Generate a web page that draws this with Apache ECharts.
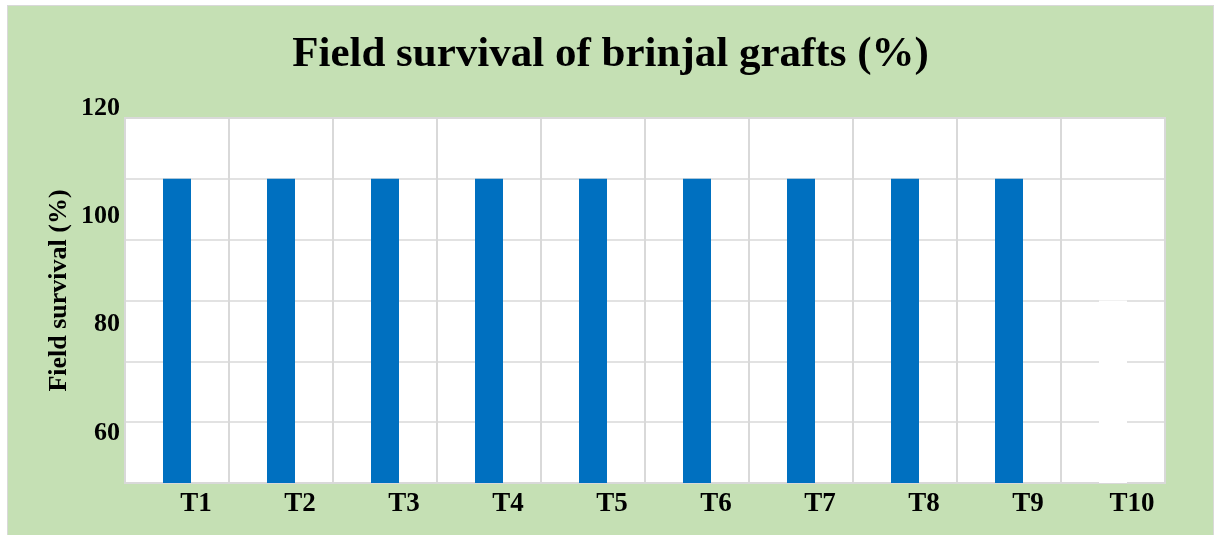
<!DOCTYPE html>
<html>
<head>
<meta charset="utf-8">
<script src="https://cdn.jsdelivr.net/npm/echarts@6/dist/echarts.min.js"></script>
<style>
  html, body { margin: 0; padding: 0; background: #fff; }
  #main {
    position: absolute; left: 7px; top: 5px;
    width: 1205px; height: 529px;
    background: #C5E0B4;
    border: 1px solid #D9D9D9; border-bottom: none;
  }
</style>
</head>
<body>
<div id="main"></div>
<script>
// treatments
var treatments = ['T1', 'T2', 'T3', 'T4', 'T5', 'T6', 'T7', 'T8', 'T9', 'T10'];
// field survival (%)
var survival = [100, 100, 100, 100, 100, 100, 100, 100, 100, 80];
// y tick labels as printed on the chart
var yTicks = [60, 80, 100, 120];

var myChart = echarts.init(document.getElementById('main'));
var serif = '"Liberation Serif", "Times New Roman", serif';

var option = {
  animation: false,
  title: {
    text: 'Field survival of brinjal grafts (%)',
    left: 'center',
    top: 22,
    textStyle: { fontFamily: serif, fontWeight: 'bold', fontSize: 43, color: '#000' }
  },
  grid: [
    {
      left: 117, right: 48, top: 112, bottom: 52,
      show: true, backgroundColor: '#fff', borderColor: '#D9D9D9', borderWidth: 2
    },
    // label-only grid for the printed y ticks
    { left: 117, right: 48, top: 102, bottom: 102 }
  ],
  xAxis: [
    {
      type: 'category',
      gridIndex: 0,
      data: treatments,
      axisLine: { lineStyle: { color: '#D9D9D9', width: 2 } },
      axisTick: { show: false },
      splitLine: { show: true, lineStyle: { color: '#D9D9D9', width: 2 } },
      axisLabel: {
        fontFamily: serif, fontWeight: 'bold', fontSize: 27, color: '#000',
        margin: 8, padding: [0, 0, 0, 38]
      }
    },
    { type: 'value', gridIndex: 1, show: false }
  ],
  yAxis: [
    {
      type: 'value',
      gridIndex: 0,
      min: 50, max: 110, interval: 10,
      name: 'Field survival (%)',
      nameLocation: 'middle',
      nameGap: 53,
      nameTextStyle: {
        fontFamily: serif, fontWeight: 'bold', fontSize: 26, color: '#000',
        padding: [0, 0, 0, 20]
      },
      axisLine: { show: false },
      axisTick: { show: false },
      axisLabel: { show: false },
      splitLine: { lineStyle: { color: '#D9D9D9', width: 1.5 } }
    },
    {
      type: 'value',
      gridIndex: 1,
      min: 60, max: 120, interval: 20,
      axisLine: { show: false },
      axisTick: { show: false },
      splitLine: { show: false },
      axisLabel: {
        margin: 5,
        fontFamily: serif, fontWeight: 'bold', fontSize: 26, color: '#000',
        formatter: function (v) { return yTicks.indexOf(v) >= 0 ? String(v) : ''; }
      }
    }
  ],
  series: [
    {
      name: 'Field survival',
      type: 'bar',
      xAxisIndex: 0,
      yAxisIndex: 0,
      data: survival,
      barWidth: 28,
      itemStyle: {
        color: function (p) {
          return p.dataIndex === treatments.length - 1 ? '#fff' : '#0070C0';
        }
      }
    }
  ]
};

myChart.setOption(option);
</script>
</body>
</html>
